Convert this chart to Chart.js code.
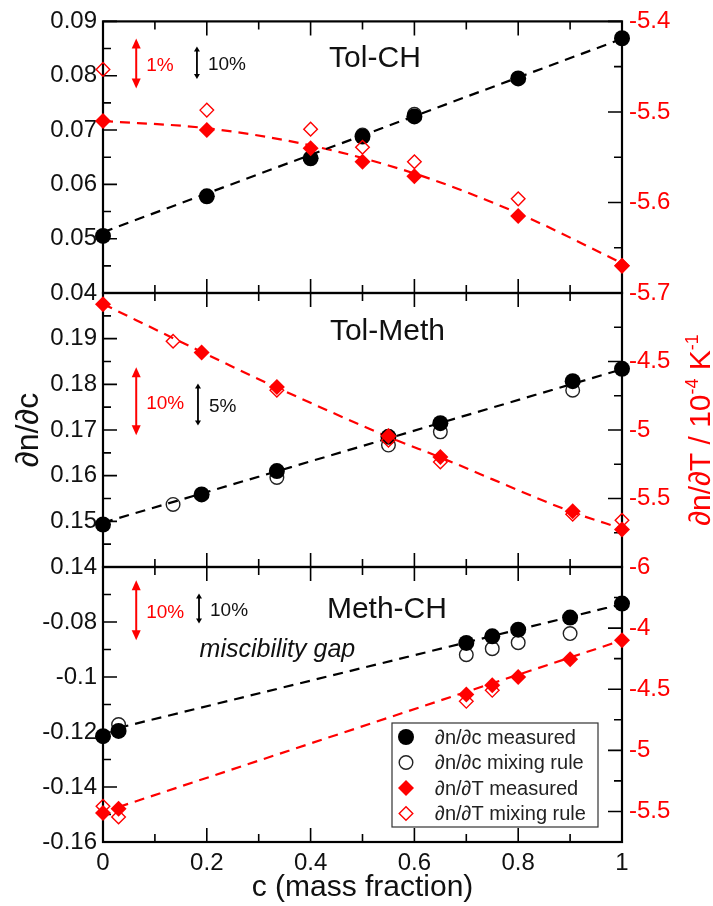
<!DOCTYPE html>
<html>
<head>
<meta charset="utf-8">
<script src="https://cdn.jsdelivr.net/npm/chart.js@4.4.1/dist/chart.umd.min.js"></script>
<style>
  html, body { margin: 0; padding: 0; background: #fff; }
  #wrap { position: relative; width: 713px; height: 906px; }
  #wrap canvas { position: absolute; left: 0; top: 0; }
</style>
</head>
<body>
<div id="wrap">
  <canvas id="p0" width="713" height="906"></canvas>
  <canvas id="p1" width="713" height="906"></canvas>
  <canvas id="p2" width="713" height="906"></canvas>
</div>
<script>
// ---------------- data ----------------
// Tol-CH
const tolCH_c         = [0, 0.2, 0.4, 0.5, 0.6, 0.8, 1];
const tolCH_dndc      = [0.0505, 0.0578, 0.0648, 0.0688, 0.0725, 0.0795, 0.0869];
const tolCH_mixC      = [0.5, 0.6];
const tolCH_dndcMix   = [0.0691, 0.0729];
const tolCH_dndT      = [-5.510, -5.520, -5.540, -5.555, -5.571, -5.615, -5.670];
const tolCH_dndTMix   = [-5.453, -5.498, -5.519, -5.539, -5.555, -5.596, -5.670];
const tolCH_fitC_c    = [0, 1];
const tolCH_fitC      = [0.0512, 0.0868];
const tolCH_fitT_c    = [0, 0.2, 0.4, 0.6, 0.8, 1];
const tolCH_fitT      = [-5.510, -5.518, -5.537, -5.568, -5.612, -5.667];

// Tol-Meth
const tolMeth_c       = [0, 0.19, 0.335, 0.55, 0.65, 0.905, 1];
const tolMeth_dndc    = [0.1493, 0.1559, 0.1610, 0.1685, 0.1715, 0.1807, 0.1834];
const tolMeth_mixC    = [0.135, 0.335, 0.55, 0.65, 0.905];
const tolMeth_dndcMix = [0.1537, 0.1596, 0.1667, 0.1696, 0.1787];
const tolMeth_dndT    = [-4.083, -4.435, -4.686, -5.044, -5.197, -5.593, -5.727];
const tolMeth_mixTC   = [0.135, 0.335, 0.55, 0.65, 0.905, 1];
const tolMeth_dndTMix = [-4.352, -4.710, -5.075, -5.233, -5.615, -5.659];
const tolMeth_fitC_c  = [0, 1];
const tolMeth_fitC    = [0.1497, 0.1833];
const tolMeth_fitT_c  = [0, 0.19, 0.335, 0.55, 0.65, 0.905, 1];
const tolMeth_fitT    = [-4.08, -4.43, -4.69, -5.05, -5.20, -5.60, -5.72];

// Meth-CH
const methCH_c        = [0, 0.03, 0.7, 0.75, 0.8, 0.9, 1];
const methCH_dndc     = [-0.1215, -0.1196, -0.0876, -0.0852, -0.0828, -0.0784, -0.0733];
const methCH_mixC     = [0.03, 0.7, 0.75, 0.8, 0.9];
const methCH_dndcMix  = [-0.1173, -0.0919, -0.0897, -0.0875, -0.0842];
const methCH_dndT     = [-5.513, -5.477, -4.544, -4.468, -4.400, -4.255, -4.100];
const methCH_mixTC    = [0, 0.03, 0.7, 0.75];
const methCH_dndTMix  = [-5.458, -5.546, -4.599, -4.509];
const methCH_fitC_c   = [0.03, 1];
const methCH_fitC     = [-0.1185, -0.0735];
const methCH_fitT_c   = [0.03, 1];
const methCH_fitT     = [-5.464, -4.100];

// axis ranges and tick values
const cMajor = [0, 0.2, 0.4, 0.6, 0.8, 1];
const cMinor = [0.1, 0.3, 0.5, 0.7, 0.9];
const leftMin = [0.04, 0.14, -0.16];
const leftMax = [0.09, 0.20, -0.06];
const leftMajorTicks = [
  [0.04, 0.05, 0.06, 0.07, 0.08, 0.09],
  [0.14, 0.15, 0.16, 0.17, 0.18, 0.19, 0.20],
  [-0.16, -0.14, -0.12, -0.1, -0.08, -0.06]
];
const leftMinorTicks = [
  [0.045, 0.055, 0.065, 0.075, 0.085],
  [0.145, 0.155, 0.165, 0.175, 0.185, 0.195],
  [-0.15, -0.13, -0.11, -0.09, -0.07]
];
const rightMin = [-5.7, -6, -5.75];
const rightMax = [-5.4, -4, -3.5];
const rightMajorTicks = [
  [-5.7, -5.6, -5.5, -5.4],
  [-6, -5.5, -5, -4.5, -4],
  [-5.5, -5, -4.5, -4, -3.5]
];
const rightMinorTicks = [
  [-5.65, -5.55, -5.45],
  [-5.75, -5.25, -4.75, -4.25],
  [-5.25, -4.75, -4.25, -3.75]
];

// panel labels and relative-size bars (in axis units)
const panelNames     = ['Tol-CH', 'Tol-Meth', 'Meth-CH'];
const panelNameC     = [0.524, 0.548, 0.547];
const panelNameY     = [0.0831, 0.1915, -0.0756];
const redBarC        = [0.064, 0.064, 0.064];
const redBarSpan     = [[-5.419, -5.474], [-4.542, -5.039], [-3.609, -4.100]];
const redBarText     = ['1%', '10%', '10%'];
const blackBarC      = [0.181, 0.183, 0.185];
const blackBarSpan   = [[0.0854, 0.0794], [0.1802, 0.1710], [-0.0696, -0.0805]];
const blackBarText   = ['10%', '5%', '10%'];
const gapNoteC = 0.336, gapNoteY = -0.0902;

// ---------------- styling / layout ----------------
const FONT = "'Liberation Sans', Arial, Helvetica, sans-serif";
const RED = '#ff0000';
const INK = '#111111';
const TICK_MAJOR = 14, TICK_MINOR = 8;
const PAGE_H = 906;
const LEFT_W = 103, RIGHT_W = 91;
const panelTop = [17, 293, 567];
const panelBottom = [293, 567, 842];

const pts = (xs, ys) => xs.map((x, i) => ({ x, y: ys[i] }));
const fmt = v => String(parseFloat(Number(v).toFixed(4)));

function markers(label, xs, ys, axis, red, filled) {
  return {
    label, data: pts(xs, ys), yAxisID: axis, showLine: false, clip: false,
    pointStyle: red ? 'rectRot' : 'circle',
    pointRadius: filled ? 8 : 6.8,
    pointHoverRadius: filled ? 8 : 6.8,
    backgroundColor: filled ? (red ? RED : '#000') : 'rgba(255,255,255,0)',
    borderColor: red ? RED : (filled ? '#000' : '#222'),
    borderWidth: filled ? 0 : 1.4,
    order: red ? (filled ? 1 : 2) : (filled ? 3 : 4)
  };
}
function fitLine(xs, ys, axis, color) {
  return {
    label: '', data: pts(xs, ys), yAxisID: axis, showLine: true, clip: false,
    pointRadius: 0, pointHoverRadius: 0, borderColor: color, borderWidth: 2.2,
    borderDash: [10, 7], cubicInterpolationMode: 'monotone', fill: false, order: 10
  };
}
function panelSets(c, dndc, mixC, dndcMix, dndT, mixTC, dndTMix, fcC, fc, ftC, ft) {
  return [
    markers('∂n/∂c measured', c, dndc, 'yL', false, true),
    markers('∂n/∂c mixing rule', mixC, dndcMix, 'yL', false, false),
    markers('∂n/∂T measured', c, dndT, 'yR', true, true),
    markers('∂n/∂T mixing rule', mixTC, dndTMix, 'yR', true, false),
    fitLine(fcC, fc, 'yL', '#000'),
    fitLine(ftC, ft, 'yR', RED)
  ];
}

function vArrow(ctx, px, y1, y2, color, lw, headL, headW) {
  const top = Math.min(y1, y2), bot = Math.max(y1, y2);
  ctx.save();
  ctx.strokeStyle = color; ctx.fillStyle = color; ctx.lineWidth = lw;
  ctx.beginPath(); ctx.moveTo(px, top + headL * 0.7); ctx.lineTo(px, bot - headL * 0.7); ctx.stroke();
  ctx.beginPath(); ctx.moveTo(px, top); ctx.lineTo(px - headW / 2, top + headL); ctx.lineTo(px + headW / 2, top + headL); ctx.closePath(); ctx.fill();
  ctx.beginPath(); ctx.moveTo(px, bot); ctx.lineTo(px - headW / 2, bot - headL); ctx.lineTo(px + headW / 2, bot - headL); ctx.closePath(); ctx.fill();
  ctx.restore();
}

function legendSymbol(ctx, ds, x, y) {
  ctx.save();
  ctx.beginPath();
  const r = ds.pointRadius;
  if (ds.pointStyle === 'circle') ctx.arc(x, y, r, 0, Math.PI * 2);
  else { ctx.moveTo(x - r, y); ctx.lineTo(x, y - r); ctx.lineTo(x + r, y); ctx.lineTo(x, y + r); ctx.closePath(); }
  ctx.fillStyle = ds.backgroundColor; ctx.fill();
  if (ds.borderWidth > 0) { ctx.lineWidth = ds.borderWidth; ctx.strokeStyle = ds.borderColor; ctx.stroke(); }
  ctx.restore();
}

// frame, inward ticks, panel annotations
const panelDeco = {
  id: 'panelDeco',
  beforeDatasetsDraw(chart, args, opts) {
    const i = opts.panel;
    const { ctx, chartArea: a, scales: { x, yL, yR } } = chart;
    ctx.save();
    ctx.strokeStyle = '#000';
    ctx.lineWidth = 1.6;
    ctx.beginPath();
    const xt = cMajor.map(v => [v, TICK_MAJOR]).concat(cMinor.map(v => [v, TICK_MINOR]));
    for (const [v, len] of xt) {
      const px = x.getPixelForValue(v);
      ctx.moveTo(px, a.top); ctx.lineTo(px, a.top + len);
      ctx.moveTo(px, a.bottom); ctx.lineTo(px, a.bottom - len);
    }
    const lt = leftMajorTicks[i].map(v => [v, TICK_MAJOR]).concat(leftMinorTicks[i].map(v => [v, TICK_MINOR]));
    for (const [v, len] of lt) {
      const py = yL.getPixelForValue(v);
      ctx.moveTo(a.left, py); ctx.lineTo(a.left + len, py);
    }
    const rt = rightMajorTicks[i].map(v => [v, TICK_MAJOR]).concat(rightMinorTicks[i].map(v => [v, TICK_MINOR]));
    for (const [v, len] of rt) {
      const py = yR.getPixelForValue(v);
      ctx.moveTo(a.right, py); ctx.lineTo(a.right - len, py);
    }
    ctx.stroke();
    ctx.lineWidth = 2.2;
    ctx.strokeRect(a.left, a.top, a.right - a.left, a.bottom - a.top);
    ctx.restore();
  },
  afterDatasetsDraw(chart, args, opts) {
    const i = opts.panel;
    const { ctx, chartArea: a, scales: { x, yL, yR } } = chart;
    ctx.save();
    // panel name
    ctx.fillStyle = INK;
    ctx.font = `30px ${FONT}`;
    ctx.textAlign = 'center'; ctx.textBaseline = 'middle';
    ctx.fillText(panelNames[i], x.getPixelForValue(panelNameC[i]), yL.getPixelForValue(panelNameY[i]));

    // relative size bars
    const rx = x.getPixelForValue(redBarC[i]);
    const ry1 = yR.getPixelForValue(redBarSpan[i][0]), ry2 = yR.getPixelForValue(redBarSpan[i][1]);
    vArrow(ctx, rx, ry1, ry2, RED, 2, 10, 9);
    const bx = x.getPixelForValue(blackBarC[i]);
    const by1 = yL.getPixelForValue(blackBarSpan[i][0]), by2 = yL.getPixelForValue(blackBarSpan[i][1]);
    vArrow(ctx, bx, by1, by2, '#000', 1.8, 5, 6);
    ctx.font = `19px ${FONT}`;
    ctx.textAlign = 'left';
    ctx.fillStyle = RED;
    ctx.fillText(redBarText[i], rx + 10, (ry1 + ry2) / 2 + 2);
    ctx.fillStyle = INK;
    ctx.fillText(blackBarText[i], bx + 11, (by1 + by2) / 2 + 2);

    if (i === 2) {
      ctx.font = `italic 25px ${FONT}`;
      ctx.textAlign = 'center';
      ctx.fillText('miscibility gap', x.getPixelForValue(gapNoteC), yL.getPixelForValue(gapNoteY));

      // legend box
      const bw = 206, bh = 104;
      const L = a.right - 24 - bw, T = a.bottom - 15 - bh;
      ctx.fillStyle = '#fff';
      ctx.fillRect(L, T, bw, bh);
      ctx.strokeStyle = '#333'; ctx.lineWidth = 1.2;
      ctx.strokeRect(L, T, bw, bh);
      ctx.font = `20px ${FONT}`;
      ctx.textAlign = 'left'; ctx.textBaseline = 'middle';
      chart.data.datasets.slice(0, 4).forEach((ds, k) => {
        const yy = T + 14 + k * 25.5;
        legendSymbol(ctx, ds, L + 14, yy);
        ctx.fillStyle = '#222';
        ctx.fillText(ds.label, L + 43, yy + 1);
      });
    }
    ctx.restore();
  },
  afterDraw(chart, args, opts) {
    if (opts.panel !== 1) return;
    const { ctx, chartArea: a } = chart;
    // right axis title with superscripts, reading upwards
    const parts = [['∂n/∂T / 10', 30, 0], ['-4', 18, 12], [' K', 30, 0], ['-1', 18, 12]];
    ctx.save();
    ctx.translate(710, (a.top + a.bottom) / 2);
    ctx.rotate(-Math.PI / 2);
    ctx.fillStyle = RED;
    ctx.textBaseline = 'alphabetic';
    ctx.textAlign = 'left';
    let total = 0;
    for (const [t, s] of parts) { ctx.font = `${s}px ${FONT}`; total += ctx.measureText(t).width; }
    let cx = -total / 2;
    for (const [t, s, up] of parts) {
      ctx.font = `${s}px ${FONT}`;
      ctx.fillText(t, cx, -up);
      cx += ctx.measureText(t).width;
    }
    ctx.restore();
  }
};

function makePanel(i, datasets) {
  const isLast = i === 2;
  const xScale = {
    type: 'linear', min: 0, max: 1, display: isLast, position: 'bottom',
    grid: { display: false, drawTicks: false }, border: { display: false },
    afterBuildTicks: s => { s.ticks = cMajor.map(v => ({ value: v })); },
    ticks: { padding: 7, color: INK, autoSkip: false, maxRotation: 0,
             font: { family: FONT, size: 24 }, callback: v => fmt(v) },
    title: { display: isLast, text: 'c (mass fraction)', color: INK,
             font: { family: FONT, size: 30 }, padding: { top: 0, bottom: 0 } }
  };
  if (isLast) xScale.afterFit = s => { s.height = PAGE_H - panelBottom[2]; };

  return new Chart(document.getElementById('p' + i), {
    type: 'scatter',
    data: { datasets },
    options: {
      responsive: false, animation: false, devicePixelRatio: 1, events: [],
      layout: { padding: { top: panelTop[i], bottom: isLast ? 0 : PAGE_H - panelBottom[i], left: 0, right: 0 } },
      plugins: { legend: { display: false }, tooltip: { enabled: false }, panelDeco: { panel: i } },
      scales: {
        x: xScale,
        yL: {
          type: 'linear', position: 'left', min: leftMin[i], max: leftMax[i], bounds: 'data',
          grid: { display: false, drawTicks: false }, border: { display: false },
          afterBuildTicks: s => { s.ticks = leftMajorTicks[i].map(v => ({ value: v })); },
          afterFit: s => { s.width = LEFT_W; },
          ticks: { padding: 6, color: INK, autoSkip: false, font: { family: FONT, size: 24 },
                   callback: v => (i > 0 && Math.abs(v - leftMax[i]) < 1e-9) ? '' : fmt(v) },
          title: { display: i === 1, text: '∂n/∂c', color: INK,
                   font: { family: FONT, size: 32 }, padding: { top: 10, bottom: 0 } }
        },
        yR: {
          type: 'linear', position: 'right', min: rightMin[i], max: rightMax[i], bounds: 'data',
          grid: { display: false, drawTicks: false }, border: { display: false },
          afterBuildTicks: s => { s.ticks = rightMajorTicks[i].map(v => ({ value: v })); },
          afterFit: s => { s.width = RIGHT_W; },
          ticks: { padding: 7, color: RED, autoSkip: false, font: { family: FONT, size: 24 },
                   callback: v => (i > 0 && Math.abs(v - rightMax[i]) < 1e-9) ? '' : fmt(v) }
        }
      }
    },
    plugins: [panelDeco]
  });
}

makePanel(0, panelSets(tolCH_c, tolCH_dndc, tolCH_mixC, tolCH_dndcMix, tolCH_dndT,
                       tolCH_c, tolCH_dndTMix, tolCH_fitC_c, tolCH_fitC, tolCH_fitT_c, tolCH_fitT));
makePanel(1, panelSets(tolMeth_c, tolMeth_dndc, tolMeth_mixC, tolMeth_dndcMix, tolMeth_dndT,
                       tolMeth_mixTC, tolMeth_dndTMix, tolMeth_fitC_c, tolMeth_fitC, tolMeth_fitT_c, tolMeth_fitT));
makePanel(2, panelSets(methCH_c, methCH_dndc, methCH_mixC, methCH_dndcMix, methCH_dndT,
                       methCH_mixTC, methCH_dndTMix, methCH_fitC_c, methCH_fitC, methCH_fitT_c, methCH_fitT));
</script>
</body>
</html>
